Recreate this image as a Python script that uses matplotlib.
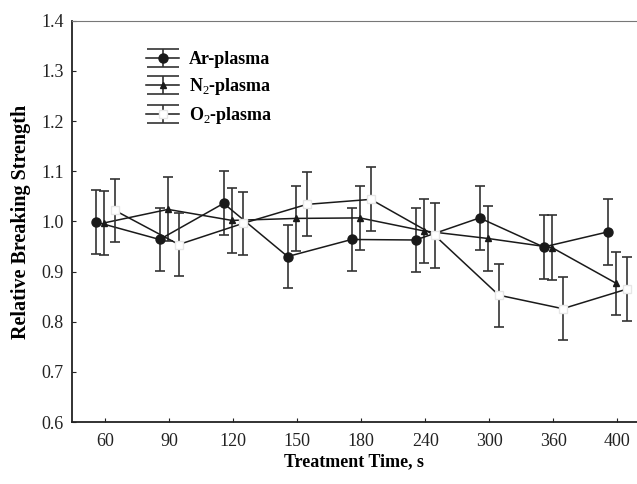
import matplotlib
matplotlib.use('Agg')
import matplotlib.pyplot as plt
from matplotlib.legend_handler import HandlerErrorbar
from matplotlib.lines import Line2D
import numpy as np

plt.rcParams['font.family'] = ['Liberation Serif', 'DejaVu Serif']
plt.rcParams['mathtext.fontset'] = 'custom'
plt.rcParams['mathtext.rm'] = 'Liberation Serif'
plt.rcParams['mathtext.bf'] = 'Liberation Serif:bold'

# data
times = ['60', '90', '120', '150', '180', '240', '300', '360', '400']
ar = [0.999, 0.964, 1.036, 0.930, 0.964, 0.963, 1.007, 0.949, 0.979]
ar_err = [0.063, 0.063, 0.064, 0.062, 0.063, 0.064, 0.063, 0.063, 0.065]
n2 = [0.997, 1.024, 1.002, 1.006, 1.007, 0.981, 0.966, 0.948, 0.877]
n2_err = [0.063, 0.064, 0.064, 0.065, 0.063, 0.064, 0.064, 0.065, 0.063]
o2 = [1.022, 0.954, 0.996, 1.034, 1.044, 0.972, 0.853, 0.826, 0.865]
o2_err = [0.063, 0.063, 0.063, 0.064, 0.064, 0.064, 0.063, 0.063, 0.064]


class WideCaps(HandlerErrorbar):
    # caps in the legend run across the whole handle
    def create_artists(self, legend, orig_handle, xdescent, ydescent,
                       width, height, fontsize, trans):
        arts = super().create_artists(legend, orig_handle, xdescent, ydescent,
                                      width, height, fontsize, trans)
        for a in arts:
            if isinstance(a, Line2D) and a.get_marker() == '_':
                a.set_markersize(width)
        return arts


fig = plt.figure(figsize=(6.37, 4.84), dpi=100)
ax = fig.add_axes([0.113, 0.128, 0.887, 0.829])

x = np.arange(len(times))
col = '#1a1a1a'
common = dict(color=col, ecolor='#333333', elinewidth=1.2, capsize=3.5,
              capthick=1.2, linewidth=1.1)

ax.errorbar(x - 0.15, ar, yerr=ar_err, marker='o', markersize=6.5,
            markerfacecolor=col, markeredgecolor=col, label='Ar-plasma', **common)
ax.errorbar(x - 0.02, n2, yerr=n2_err, marker='^', markersize=5,
            markerfacecolor=col, markeredgecolor=col,
            label='N$_2$-plasma', **common)
ax.errorbar(x + 0.15, o2, yerr=o2_err, marker='s', markersize=6,
            markerfacecolor='white', markeredgecolor='#e6e6e6',
            label='O$_2$-plasma', zorder=3, **common)

ax.set_xlim(-0.52, 8.31)
ax.set_ylim(0.6, 1.4)
ax.set_xticks(x)
ax.set_xticklabels(times)
ax.set_yticks(np.arange(0.6, 1.41, 0.1))
ax.set_yticklabels([f'{v:.1f}' for v in np.arange(0.6, 1.41, 0.1)])
ax.tick_params(direction='in', length=3, width=0.8, labelsize=13, pad=8,
               colors='#222222')
ax.tick_params(axis='y', pad=6)

ax.spines['right'].set_visible(False)
ax.spines['top'].set_color('#777777')
ax.spines['top'].set_linewidth(0.8)
ax.spines['left'].set_linewidth(1.3)
ax.spines['bottom'].set_linewidth(1.3)
ax.spines['left'].set_color('#222222')
ax.spines['bottom'].set_color('#222222')

ax.set_xlabel('Treatment Time, s', fontsize=13, fontweight='bold', labelpad=2)
ax.set_ylabel('Relative Breaking Strength', fontsize=14.5, fontweight='bold',
              labelpad=7)

leg = ax.legend(loc='upper left', bbox_to_anchor=(0.103, 0.965), frameon=False,
                handlelength=1.8, handletextpad=0.55, labelspacing=0.45,
                prop={'weight': 'bold', 'size': 13},
                handler_map={type(ax.containers[0]): WideCaps(yerr_size=0.5)})

fig.savefig('out.png', dpi=100)
